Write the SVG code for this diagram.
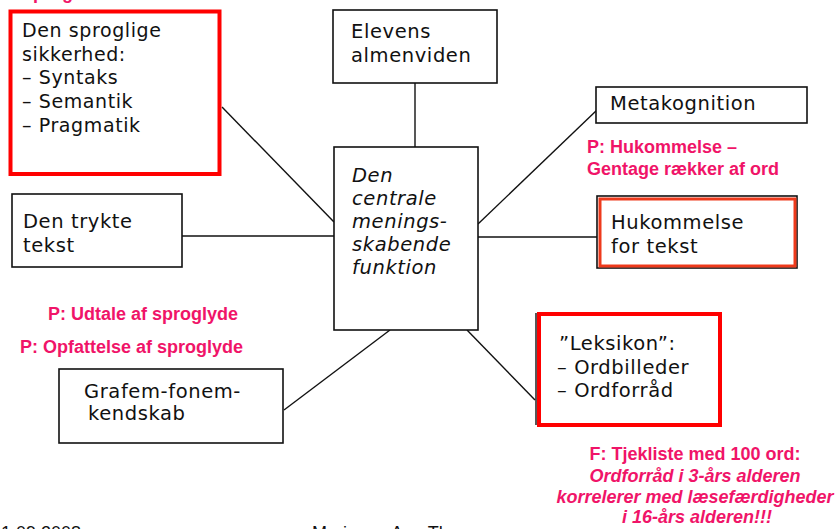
<svg xmlns="http://www.w3.org/2000/svg" width="838" height="529" viewBox="0 0 838 529">
<style>
.box{fill:#fff;stroke:#111;stroke-width:1.6}
.red{fill:none;stroke:#ff0000;stroke-width:4}
.orange{fill:none;stroke:#ee3a1c;stroke-width:3}
.t{font-family:"DejaVu Sans","Open Sans",sans-serif;font-size:19.5px;letter-spacing:0.6px;fill:#111}
.t18{font-size:19px}
.it{font-style:italic}
.p{font-family:"Liberation Sans",Arial,sans-serif;font-size:18px;font-weight:bold;fill:#f01468}
.pi{font-style:italic}
.f{font-family:"Liberation Sans",Arial,sans-serif;font-size:18px;fill:#111}
#connectors line{stroke:#111;stroke-width:1.4}
</style>
<rect width="838" height="529" fill="#fff"/>
<g id="connectors">
<line x1="222" y1="107" x2="334" y2="222"/>
<line x1="415" y1="83" x2="415" y2="147"/>
<line x1="182" y1="236" x2="334" y2="236"/>
<line x1="478" y1="224" x2="597" y2="110"/>
<line x1="478" y1="237" x2="597" y2="237"/>
<line x1="390" y1="330" x2="284" y2="410"/>
<line x1="467" y1="330" x2="535" y2="400"/>
</g>
<g id="node-sproglige">
<rect class="box" x="10.5" y="11.5" width="209" height="162.5" style="stroke:none"/>
<rect class="red" x="10.5" y="11.5" width="209" height="162.5"/>
<text class="t t18" x="22" y="37">Den sproglige</text>
<text class="t t18" x="22" y="61">sikkerhed:</text>
<text class="t t18" x="22" y="84">– Syntaks</text>
<text class="t t18" x="22" y="108">– Semantik</text>
<text class="t t18" x="22" y="132">– Pragmatik</text>
</g>
<g id="node-elevens">
<rect class="box" x="333" y="10" width="164" height="73"/>
<text class="t" x="351" y="38">Elevens</text>
<text class="t" x="351" y="62">almenviden</text>
</g>
<g id="node-central">
<rect class="box" x="334" y="147" width="144" height="183"/>
<text class="t it" x="352" y="182">Den</text>
<text class="t it" x="352" y="205">centrale</text>
<text class="t it" x="352" y="228">menings-</text>
<text class="t it" x="352" y="251">skabende</text>
<text class="t it" x="352" y="274">funktion</text>
</g>
<g id="node-metakognition">
<rect class="box" x="596" y="87" width="211" height="36"/>
<text class="t" x="610" y="110">Metakognition</text>
</g>
<g id="node-trykte">
<rect class="box" x="12" y="194" width="170" height="73"/>
<text class="t" x="23" y="228">Den trykte</text>
<text class="t" x="23" y="252">tekst</text>
</g>
<g id="node-hukommelse">
<rect class="box" x="597" y="196" width="200" height="72"/>
<rect class="orange" x="600" y="199" width="195" height="67"/>
<text class="t" x="611" y="229">Hukommelse</text>
<text class="t" x="611" y="253">for tekst</text>
</g>
<g id="node-grafem">
<rect class="box" x="59" y="369" width="224" height="74"/>
<text class="t" x="84" y="398">Grafem-fonem-</text>
<text class="t" x="88" y="420">kendskab</text>
</g>
<g id="node-leksikon">
<line x1="536" y1="313" x2="536" y2="425" stroke="#111" stroke-width="1.4"/>
<rect class="box" x="539" y="314" width="181" height="111" style="stroke:none"/>
<rect class="red" x="539" y="314" width="181" height="111"/>
<text class="t" x="559" y="350">”Leksikon”:</text>
<text class="t" x="557" y="374">– Ordbilleder</text>
<text class="t" x="557" y="397">– Ordforråd</text>
</g>
<g id="annotations">
<text class="p" x="23" y="-1">sprog</text>
<text class="p" x="587" y="153">P: Hukommelse –</text>
<text class="p" x="587" y="175">Gentage rækker af ord</text>
<text class="p" x="48" y="320">P: Udtale af sproglyde</text>
<text class="p" x="20" y="353">P: Opfattelse af sproglyde</text>
<text class="p" x="695" y="460" text-anchor="middle">F: Tjekliste med 100 ord:</text>
<text class="p pi" x="695" y="482" text-anchor="middle">Ordforråd i 3-års alderen</text>
<text class="p pi" x="695" y="503" text-anchor="middle">korrelerer med læsefærdigheder</text>
<text class="p pi" x="697" y="523" text-anchor="middle">i 16-års alderen!!!</text>
</g>
<g id="footer">
<text class="f" x="1" y="539">1.09.2008</text>
<text class="f" x="312" y="539">Marianne Ann Th</text>
</g>
</svg>
